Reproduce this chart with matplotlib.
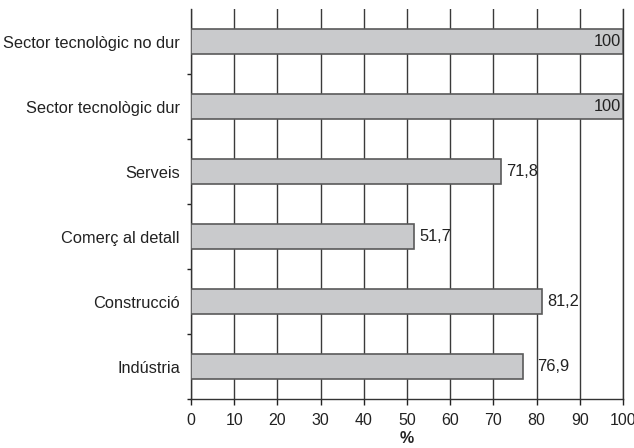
import matplotlib.pyplot as plt
from matplotlib.ticker import FixedLocator

plt.rcParams['font.family'] = ['Liberation Sans', 'DejaVu Sans']

# dades (de baix a dalt)
sectors = ['Indústria', 'Construcció', 'Comerç al detall', 'Serveis',
           'Sector tecnològic dur', 'Sector tecnològic no dur']
valors = [76.9, 81.2, 51.7, 71.8, 100, 100]
etiquetes = ['76,9', '81,2', '51,7', '71,8', '100', '100']
xticks = [0, 10, 20, 30, 40, 50, 60, 70, 80, 90, 100]

W, H = 634, 448
fig = plt.figure(figsize=(W / 100, H / 100), dpi=100)
ax = fig.add_axes([191 / W, (H - 399) / H, 432 / W, 390 / H])

pos = list(range(len(sectors)))
ax.barh(pos, valors, height=0.385, color='#c9cacc', edgecolor='#5a5a5a',
        linewidth=1.2, zorder=3)

ax.set_xlim(0, 100)
ax.set_ylim(-0.5, len(sectors) - 0.5)
ax.set_xticks(xticks)
ax.set_yticks(pos)
ax.set_yticklabels(sectors)
ax.yaxis.set_minor_locator(FixedLocator([p - 0.5 for p in pos]))
ax.tick_params(axis='y', which='major', length=0, pad=8, labelsize=11.8,
               colors='#222222')
ax.tick_params(axis='y', which='minor', length=3, width=1, color='#222222')
ax.tick_params(axis='x', length=4, width=1, pad=6, labelsize=11.5,
               colors='#222222')

ax.grid(axis='x', color='#3a3a3a', linewidth=1, zorder=1)
ax.spines['top'].set_visible(False)
for s in ['left', 'bottom', 'right']:
    ax.spines[s].set_color('#333333')
    ax.spines[s].set_linewidth(1)

# etiquetes de valor
for p, v, t in zip(pos, valors, etiquetes):
    if v >= 100:
        ax.annotate(t, (v, p), xytext=(-2, 0), textcoords='offset pixels',
                    ha='right', va='center', fontsize=11.8, color='#222222',
                    zorder=4)
    else:
        dx = 14 if t == '76,9' else 5
        ax.annotate(t, (v, p), xytext=(dx, 0), textcoords='offset pixels',
                    ha='left', va='center', fontsize=11.8, color='#222222',
                    zorder=4)

ax.set_xlabel('%', fontsize=11.5, fontweight='bold', color='#222222',
              labelpad=2)

fig.savefig('out.png', dpi=100)
